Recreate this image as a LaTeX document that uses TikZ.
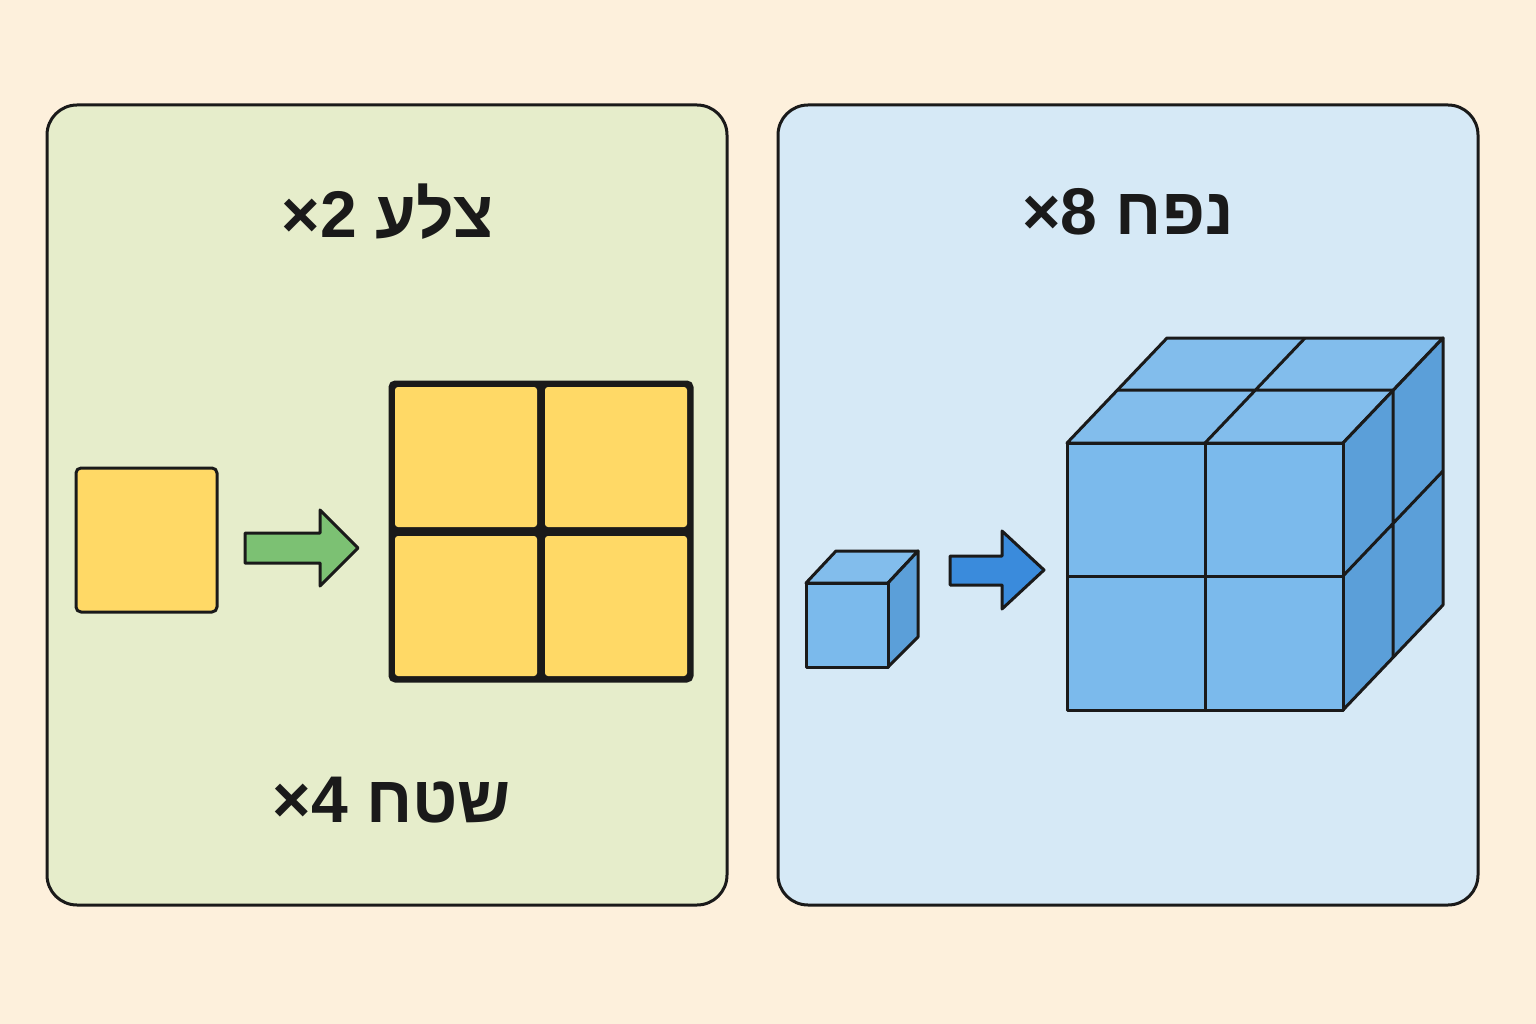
\documentclass[tikz,border=0pt]{standalone}
\usepackage{fontspec}
\setmainfont{Liberation Sans}
\TeXXeTstate=1
\definecolor{bg}{HTML}{FDF0DC}
\definecolor{gpan}{HTML}{E6EDCB}
\definecolor{bpan}{HTML}{D6E9F6}
\definecolor{yel}{HTML}{FFD966}
\definecolor{grn}{HTML}{7CC173}
\definecolor{bfr}{HTML}{7BBAEC}
\definecolor{btop}{HTML}{82BDEC}
\definecolor{bside}{HTML}{5B9FD9}
\definecolor{barr}{HTML}{3A8BDC}
\definecolor{ink}{HTML}{1A1A1A}
\begin{document}
\begin{tikzpicture}[x=1pt,y=-1pt,
 panel/.style={draw=ink,line width=3pt,rounded corners=30pt},
 ln/.style={draw=ink,line width=3pt,line join=round},
 title/.style={font=\bfseries\fontsize{66}{70}\selectfont,text=ink}]
\useasboundingbox (0,0) rectangle (1536,1024);
\fill[bg] (0,0) rectangle (1536,1024);
\path[panel,fill=gpan] (47,105) rectangle (727,905);
\path[panel,fill=bpan] (778,105) rectangle (1478,905);
\node[title] (t1) at (388,212) {×2 \beginR צלע\endR};
\node[title] (t2) at (392,800) {×4 \beginR שטח\endR};
\node[title] (t3) at (1128,212) {×8 \beginR נפח\endR};
% left
\path[ln,fill=yel,rounded corners=5pt] (76,468) rectangle (217,612);
\path[ln,fill=grn] (245,533) -- (320,533) -- (320,510) -- (358,548) -- (320,586) -- (320,563) -- (245,563) -- cycle;
\path[ln,fill=ink,rounded corners=5pt] (390,382) rectangle (692,681);
\foreach \x/\y in {395/387,545/387,395/536,545/536}
  \path[fill=yel,rounded corners=3pt] (\x,\y) rectangle ++(142,140);
% right small cube
\path[ln,fill=btop] (806,583) -- (836,551) -- (918,551) -- (888,583) -- cycle;
\path[ln,fill=bside] (888,583) -- (918,551) -- (918,637) -- (888,667) -- cycle;
\path[ln,fill=bfr] (806,583) rectangle (888,667);
\path[ln,fill=barr] (950,556) -- (1002,556) -- (1002,531) -- (1044,570) -- (1002,609) -- (1002,585) -- (950,585) -- cycle;
% big cube
\path[ln,fill=btop] (1067,443) -- (1167,338) -- (1443,338) -- (1343,443) -- cycle;
\path[ln,fill=bside] (1343,443) -- (1443,338) -- (1443,605) -- (1343,710) -- cycle;
\path[ln,fill=bfr] (1067,443) rectangle (1343,710);
\draw[ln] (1205,443) -- (1205,710) (1067,576) -- (1343,576);
\draw[ln] (1205,443) -- (1305,338) (1117,390) -- (1393,390);
\draw[ln] (1393,390) -- (1393,657) (1343,576) -- (1443,471);
\end{tikzpicture}
\end{document}
